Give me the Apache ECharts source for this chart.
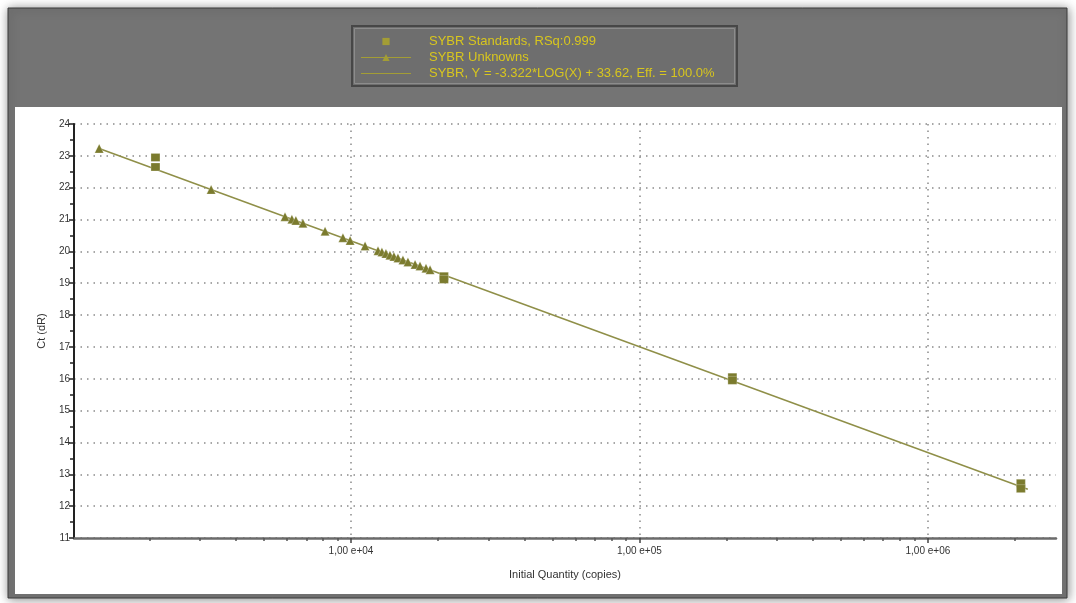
<!DOCTYPE html>
<html><head><meta charset="utf-8">
<script src="https://cdn.jsdelivr.net/npm/echarts@6/dist/echarts.min.js"></script>
<style>html,body{margin:0;padding:0;background:#fff}#c{width:1076px;height:603px}</style>
</head><body><div id="c"></div>
<script>
// ---- data ----
const stdQty = [2100, 2100, 21000, 21000, 210000, 210000, 2100000, 2100000];
const stdCt  = [22.95, 22.65, 19.22, 19.12, 16.05, 15.95, 12.72, 12.55];
const unkQty = [1340, 3275, 5905, 6240, 6440, 6815, 8130, 9380, 9930, 11190, 12410, 12800, 13220, 13650, 14090, 14550, 15140, 15760, 16680, 17350, 18200, 18800];
const unkCt  = [23.23, 21.94, 21.09, 21.01, 20.97, 20.88, 20.63, 20.43, 20.34, 20.17, 20.02, 19.98, 19.93, 19.88, 19.84, 19.79, 19.73, 19.67, 19.59, 19.54, 19.47, 19.42];
const fitQty = [1340, 2220000];
const fitCt  = [23.23, 12.53];
const xMajorTicks = [10000, 100000, 1000000];
const xMinorTicks = [2000,3000,4000,5000,6000,7000,8000,9000,20000,30000,40000,50000,60000,70000,80000,90000,200000,300000,400000,500000,600000,700000,800000,900000,2000000];
const xTickLabels = ['1,00 e+04', '1,00 e+05', '1,00 e+06'];
const seriesNames = ['SYBR Standards, RSq:0.999', 'SYBR Unknowns', 'SYBR, Y = -3.322*LOG(X) + 33.62, Eff. = 100.0%'];

const zip = (a, b) => a.map((v, i) => [v, b[i]]);
const FONT = 'Liberation Sans, Arial, sans-serif';
const MARK = '#7b7b2e';
const LEG = '#a39d35';
const dotted = { color: '#8a8a8a', width: 1.5, type: [1.5, 5] };

const chart = echarts.init(document.getElementById('c'), null, { renderer: 'canvas' });
chart.setOption({
  animation: false,
  backgroundColor: '#ffffff',
  graphic: [
    { type: 'rect', z: -3, shape: { x: 8, y: 8, width: 1059, height: 590 },
      style: { fill: '#747474', stroke: '#3c3c3c', lineWidth: 1, shadowBlur: 10, shadowColor: 'rgba(0,0,0,0.45)', shadowOffsetX: 1, shadowOffsetY: 1 } },
    { type: 'rect', z: -2, shape: { x: 15, y: 107, width: 1047, height: 487 },
      style: { fill: '#ffffff' } },
    { type: 'rect', z: -2, shape: { x: 352, y: 26, width: 385, height: 60 },
      style: { fill: '#6e6e6e', stroke: '#474747', lineWidth: 2 } },
    { type: 'rect', z: -1, shape: { x: 354.5, y: 28.5, width: 380, height: 55 },
      style: { fill: 'none', stroke: '#8c8c8c', lineWidth: 1 } }
  ],
  legend: {
    orient: 'vertical',
    left: 352, top: 26,
    padding: [8, 8, 7, 8],
    itemWidth: 50, itemHeight: 9, itemGap: 1,
    selectedMode: false,
    textStyle: { color: '#d8c61e', fontSize: 13, fontFamily: FONT, padding: [0, 0, 0, 13], lineHeight: 15 },
    data: [
      { name: seriesNames[0], itemStyle: { color: LEG, borderWidth: 0 } },
      { name: seriesNames[1], itemStyle: { color: LEG, borderWidth: 0 }, lineStyle: { opacity: 1, width: 1, color: LEG } },
      { name: seriesNames[2], icon: 'path://M0,0L50,0L50,1L0,1Z', itemStyle: { color: LEG, borderWidth: 0 } }
    ]
  },
  grid: { left: 74, top: 124, right: 20, bottom: 65, containLabel: false },
  xAxis: [
    {
      type: 'log', logBase: 10, min: 1096, max: 2780000,
      name: 'Initial Quantity (copies)', nameLocation: 'middle', nameGap: 31,
      nameTextStyle: { fontSize: 11, color: '#333', fontFamily: FONT },
      axisLine: { show: true, lineStyle: { color: '#6b6b6b', width: 2.5 } },
      axisTick: { show: true, length: 5, customValues: xMajorTicks, lineStyle: { color: '#444', width: 1.5 } },
      axisLabel: { customValues: xMajorTicks, margin: 8, fontSize: 10, color: '#333', fontFamily: FONT,
        formatter: v => xTickLabels[xMajorTicks.indexOf(Math.round(v))] ?? '' },
      splitLine: { show: true, lineStyle: dotted },
      minorTick: { show: false }
    },
    {
      type: 'log', logBase: 10, min: 1096, max: 2780000, position: 'bottom',
      axisLine: { show: false },
      axisTick: { show: true, length: 3, customValues: xMinorTicks, lineStyle: { color: '#555', width: 1.5 } },
      axisLabel: { show: false },
      splitLine: { show: false }
    }
  ],
  yAxis: {
    type: 'value', min: 11, max: 24, interval: 1,
    name: 'Ct (dR)', nameLocation: 'middle', nameGap: 27, nameRotate: 90,
    nameTextStyle: { fontSize: 11, color: '#333', fontFamily: FONT },
    axisLine: { show: true, lineStyle: { color: '#222', width: 2 } },
    axisTick: { show: true, length: 5, lineStyle: { color: '#222', width: 1.5 } },
    minorTick: { show: true, splitNumber: 2, length: 4, lineStyle: { color: '#222', width: 1.5 } },
    axisLabel: { margin: 4, fontSize: 10, color: '#333', fontFamily: FONT },
    splitLine: { show: true, lineStyle: dotted }
  },
  series: [
    {
      name: seriesNames[0], type: 'line', xAxisIndex: 0,
      data: zip(stdQty, stdCt),
      symbol: 'rect', symbolSize: [9, 8], showSymbol: true,
      lineStyle: { opacity: 0 },
      itemStyle: { color: MARK, borderColor: 'rgba(255,255,255,0.5)', borderWidth: 0.5 },
      z: 4
    },
    {
      name: seriesNames[1], type: 'line', xAxisIndex: 0,
      data: zip(unkQty, unkCt),
      symbol: 'triangle', symbolSize: 9, showSymbol: true,
      lineStyle: { opacity: 0 },
      itemStyle: { color: MARK, borderColor: 'rgba(255,255,255,0.5)', borderWidth: 0.5 },
      z: 4
    },
    {
      name: seriesNames[2], type: 'line', xAxisIndex: 0,
      data: zip(fitQty, fitCt),
      symbol: 'none',
      lineStyle: { color: '#8f8f48', width: 1.5 },
      itemStyle: { color: '#8f8f48' },
      z: 3
    }
  ]
});
</script></body></html>
